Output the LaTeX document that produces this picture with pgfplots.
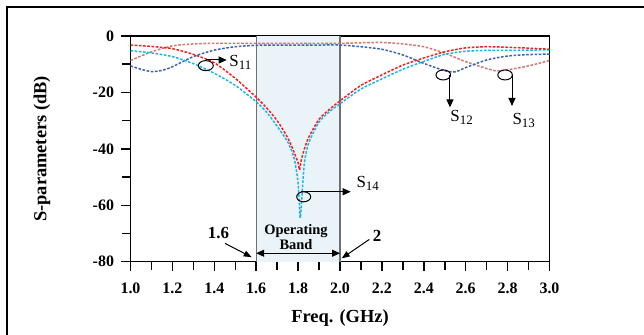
\documentclass[border=0pt]{standalone}
\usepackage{fontspec}
\setmainfont{Liberation Serif}
\usepackage{pgfplots}
\pgfplotsset{compat=1.18}
\usetikzlibrary{arrows.meta}
\definecolor{cRed}{HTML}{FF1A1A}
\definecolor{cCyan}{HTML}{1AB4EE}
\definecolor{cBlue}{HTML}{3A62B0}
\definecolor{cSalmon}{HTML}{D4756F}
\definecolor{cBand}{HTML}{EAF4F8}
\definecolor{cGrayLine}{HTML}{707070}
\definecolor{cTick}{HTML}{050505}
\newcommand{\Sp}[1]{S\raisebox{-0.38ex}{\fontsize{13}{13}\selectfont #1}}
\tikzset{curve/.style={line width=1.5bp, dash pattern=on 2.6bp off 1.6bp, smooth, tension=0.4}}
\begin{document}
\begin{tikzpicture}
\begin{axis}[
  at={(130.5bp,73.3bp)}, anchor=south west,
  scale only axis, width=419bp, height=225.7bp,
  xmin=1, xmax=3, ymin=-80, ymax=0,
  xtick={1.0,1.2,1.4,1.6,1.8,2.0,2.2,2.4,2.6,2.8,3.0},
  xticklabels={1.0,1.2,1.4,1.6,1.8,2.0,2.2,2.4,2.6,2.8,3.0},
  minor xtick={1.1,1.3,1.5,1.7,1.9,2.1,2.3,2.5,2.7,2.9},
  ytick={-80,-60,-40,-20,0},
  yticklabels={-80,-60,-40,-20,0},
  minor ytick={-70,-50,-30,-10},
  tick align=outside,
  xtick pos=bottom, ytick pos=left,
  major tick length=9bp, minor tick length=8bp,
  every tick/.style={cTick, line width=1.5bp},
  every x tick/.style={cTick, line width=1.5bp},
  every y tick/.style={cTick, line width=1.5bp},
  every major tick/.append style={cTick, line width=1.5bp},
  every minor tick/.append style={cTick, line width=1.5bp},
  axis line style={line width=1.3bp},
  ticklabel style={font=\fontsize{16}{16}\selectfont\bfseries},
  xticklabel style={yshift=-9bp},
  yticklabel style={xshift=-4bp},
  every axis x label/.style={at={(axis description cs:0.5,0)}, anchor=center, yshift=-56bp},
  every axis y label/.style={at={(axis description cs:-0.2112,0.5)}, rotate=90, anchor=center},
  label style={font=\fontsize{18.5}{18.5}\selectfont\bfseries},
  xlabel={Freq. (GHz)},
  ylabel={S-parameters (dB)},
  clip=false,
]
% operating band
\addplot[draw=none, fill=cBand] coordinates {(1.6,-80) (1.6,0) (2.0,0) (2.0,-80)} -- cycle;
\addplot[cGrayLine, line width=1.4bp] coordinates {(1.6,-80) (1.6,0)};
\addplot[cGrayLine, line width=1.4bp] coordinates {(2.0,-80) (2.0,0)};

% salmon
\addplot[cSalmon, curve] coordinates {
(1.0,-8.7)(1.1,-5.6)(1.2,-3.5)(1.3,-2.8)(1.4,-2.6)(1.6,-2.6)(1.8,-2.6)(2.0,-2.6)
(2.1,-2.4)(2.2,-2.3)(2.3,-2.8)(2.4,-3.8)(2.5,-6.1)(2.6,-9.1)(2.7,-11.5)(2.75,-12.4)
(2.8,-12.0)(2.9,-10.6)(3.0,-8.7)};
% dark blue
\addplot[cBlue, curve] coordinates {
(1.0,-10.6)(1.05,-11.8)(1.1,-12.6)(1.15,-12.2)(1.2,-10.9)(1.3,-7.3)(1.4,-5.0)(1.5,-3.8)
(1.6,-3.3)(1.7,-3.2)(1.8,-3.2)(1.9,-3.2)(2.0,-3.2)(2.1,-3.8)(2.2,-4.7)(2.3,-6.7)
(2.4,-9.7)(2.5,-12.3)(2.55,-12.7)(2.6,-11.2)(2.7,-8.5)(2.8,-7.1)(2.9,-6.6)(3.0,-6.4)};
% cyan
\addplot[cCyan, curve] coordinates {
(1.0,-5.2)(1.1,-6.0)(1.2,-7.3)(1.3,-9.8)(1.4,-13.2)(1.5,-17.5)(1.6,-23.3)(1.65,-27)
(1.7,-32)(1.75,-37.5)(1.78,-43)(1.8,-52)(1.81,-64.5)(1.82,-55)(1.83,-45)(1.85,-38)
(1.9,-30.5)(1.95,-26.8)(2.0,-24)(2.1,-18.8)(2.2,-15.2)(2.3,-11.8)(2.4,-9.0)(2.5,-6.5)
(2.6,-5.4)(2.7,-5.1)(2.8,-5.1)(2.9,-5.0)(3.0,-4.9)};
% red
\addplot[cRed, curve] coordinates {
(1.0,-3.2)(1.1,-3.7)(1.2,-4.5)(1.3,-6.5)(1.4,-9.5)(1.5,-15)(1.6,-21.7)(1.65,-25.5)
(1.7,-30)(1.75,-36)(1.78,-41)(1.8,-45)(1.807,-47.5)(1.815,-44)(1.83,-40)(1.85,-36)
(1.9,-29.5)(1.95,-26)(2.0,-23)(2.1,-17.5)(2.2,-13.8)(2.3,-10.3)(2.4,-7.8)(2.5,-5.6)
(2.6,-4.2)(2.7,-3.8)(2.8,-4.0)(2.9,-4.3)(3.0,-4.7)};

% annotations
\begin{scope}[line width=1bp, black]
\draw (axis cs:1.3594,-10.5) ellipse [x radius=7.5bp, y radius=5bp];
\draw[-{Triangle[length=8bp,width=7bp]}] (axis cs:1.3604,-8.5) -- (axis cs:1.4592,-8.5);
\node[anchor=west, inner sep=0pt, font=\fontsize{17}{17}\selectfont] at (axis cs:1.470,-9.2) {\Sp{11}};

\draw (axis cs:2.493,-13.8) ellipse [x radius=7.3bp, y radius=5bp];
\draw[-{Triangle[length=8bp,width=7bp]}] (axis cs:2.525,-13.8) -- (axis cs:2.525,-25.3);
\node[anchor=north west, inner sep=0pt, font=\fontsize{17}{17}\selectfont] at (axis cs:2.525,-26.2) {\Sp{12}};

\draw (axis cs:2.788,-13.8) ellipse [x radius=7.3bp, y radius=5bp];
\draw[-{Triangle[length=8bp,width=7bp]}] (axis cs:2.821,-13.8) -- (axis cs:2.821,-24.8);
\node[anchor=north west, inner sep=0pt, font=\fontsize{17}{17}\selectfont] at (axis cs:2.821,-27.2) {\Sp{13}};

\draw (axis cs:1.8267,-57.0) ellipse [x radius=7bp, y radius=5bp];
\draw[-{Triangle[length=8bp,width=7bp]}] (axis cs:1.8138,-55.2) -- (axis cs:2.0511,-55.2);
\node[anchor=north west, inner sep=0pt, font=\fontsize{17}{17}\selectfont] at (axis cs:2.0764,-49.6) {\Sp{14}};

\draw[{Triangle[length=8bp,width=7bp]}-{Triangle[length=8bp,width=7bp]}] (axis cs:1.6,-77.0) -- (axis cs:2.0,-77.0);
\node[align=center, inner sep=0pt, font=\fontsize{14.5}{15}\selectfont\bfseries] at (axis cs:1.79,-71.2) {Operating\\Band};

\node[inner sep=0pt, font=\fontsize{17}{17}\selectfont\bfseries] at (axis cs:1.420,-70.0) {1.6};
\draw[-{Triangle[length=8bp,width=6bp]}] (axis cs:1.451,-73.5) -- (axis cs:1.5785,-78.4);
\node[inner sep=0pt, font=\fontsize{17}{17}\selectfont\bfseries] at (axis cs:2.1766,-70.9) {2};
\draw[-{Triangle[length=8bp,width=6bp]}] (axis cs:2.140,-72.1) -- (axis cs:2.008,-78.8);
\end{scope}
\end{axis}
\draw[line width=2bp] (7bp,0) -- (7bp,328.3bp) -- (644bp,328.3bp);
\pgfresetboundingbox
\useasboundingbox (0,0) rectangle (644bp,335bp);
\end{tikzpicture}
\end{document}
